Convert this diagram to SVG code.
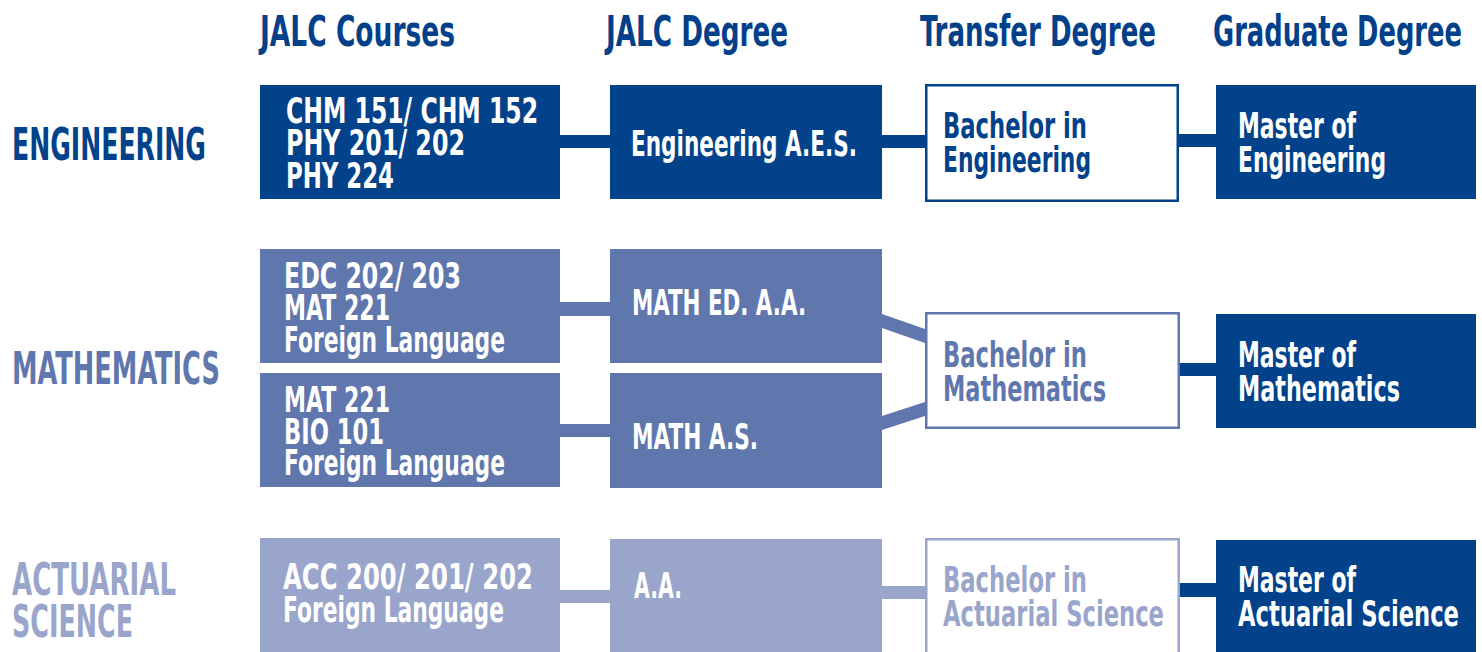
<svg xmlns="http://www.w3.org/2000/svg" width="1482" height="652" viewBox="0 0 1482 652">
<style>
text{font-family:"DejaVu Sans Condensed","DejaVu Sans","Liberation Sans",sans-serif;font-stretch:condensed;font-weight:bold}
.hd{font-size:42px;fill:#02418a}
.rl{font-size:44px}
.bt{font-size:36px;fill:#ffffff}
.dk{fill:#02428a}
.md{fill:#6077ae}
.lt{fill:#9aa5cb}
.bw{fill:#ffffff;stroke-width:2.5}
</style>
<rect width="1482" height="652" fill="#ffffff"/>
<g id="headers">
<text class="hd" x="260" y="46" textLength="195" lengthAdjust="spacingAndGlyphs">JALC Courses</text>
<text class="hd" x="606" y="46" textLength="182" lengthAdjust="spacingAndGlyphs">JALC Degree</text>
<text class="hd" x="920" y="46" textLength="236" lengthAdjust="spacingAndGlyphs">Transfer Degree</text>
<text class="hd" x="1213" y="46" textLength="249" lengthAdjust="spacingAndGlyphs">Graduate Degree</text>
</g>
<g id="row-labels">
<text class="rl dk" x="12" y="160" textLength="194" lengthAdjust="spacingAndGlyphs">ENGINEERING</text>
<text class="rl md" x="12" y="384" textLength="208" lengthAdjust="spacingAndGlyphs">MATHEMATICS</text>
<text class="rl lt" x="12" y="595" textLength="164" lengthAdjust="spacingAndGlyphs">ACTUARIAL</text>
<text class="rl lt" x="12" y="637" textLength="121" lengthAdjust="spacingAndGlyphs">SCIENCE</text>
</g>
<g id="connectors">
<rect class="dk" x="560" y="135" width="50" height="13"/>
<rect class="dk" x="882" y="135" width="43" height="13"/>
<rect class="dk" x="1179" y="134" width="37" height="13"/>
<rect class="md" x="560" y="302" width="50" height="14"/>
<rect class="md" x="560" y="424" width="50" height="13"/>
<polygon class="md" points="882,314 882,328 925,343 925,329"/>
<polygon class="md" points="882,416 882,430 925,416 925,402"/>
<rect class="dk" x="1180" y="363" width="36" height="13"/>
<rect class="lt" x="560" y="590" width="50" height="13"/>
<rect class="lt" x="882" y="586" width="43" height="13"/>
<rect class="dk" x="1180" y="583" width="36" height="14"/>
</g>
<g id="eng-courses">
<rect class="dk" x="260" y="85" width="300" height="114"/>
<text class="bt" x="286" y="123" textLength="252" lengthAdjust="spacingAndGlyphs">CHM 151/ CHM 152</text>
<text class="bt" x="286" y="155" textLength="179" lengthAdjust="spacingAndGlyphs">PHY 201/ 202</text>
<text class="bt" x="286" y="188" textLength="108" lengthAdjust="spacingAndGlyphs">PHY 224</text>
</g>
<g id="eng-aes">
<rect class="dk" x="610" y="85" width="272" height="114"/>
<text class="bt" x="631" y="156" textLength="226" lengthAdjust="spacingAndGlyphs">Engineering A.E.S.</text>
</g>
<g id="eng-bachelor">
<rect class="bw" x="926.25" y="85.25" width="251.5" height="115.5" stroke="#02428a"/>
<text class="bt dk" x="943" y="138" textLength="144" lengthAdjust="spacingAndGlyphs">Bachelor in</text>
<text class="bt dk" x="943" y="172" textLength="148" lengthAdjust="spacingAndGlyphs">Engineering</text>
</g>
<g id="eng-master">
<rect class="dk" x="1216" y="85" width="260" height="114"/>
<text class="bt" x="1238" y="138" textLength="118" lengthAdjust="spacingAndGlyphs">Master of</text>
<text class="bt" x="1238" y="172" textLength="148" lengthAdjust="spacingAndGlyphs">Engineering</text>
</g>
<g id="math-courses-1">
<rect class="md" x="260" y="249" width="300" height="114"/>
<text class="bt" x="284" y="288" textLength="177" lengthAdjust="spacingAndGlyphs">EDC 202/ 203</text>
<text class="bt" x="284" y="320" textLength="106" lengthAdjust="spacingAndGlyphs">MAT 221</text>
<text class="bt" x="284" y="352" textLength="221" lengthAdjust="spacingAndGlyphs">Foreign Language</text>
</g>
<g id="math-ed-aa">
<rect class="md" x="610" y="249" width="272" height="114"/>
<text class="bt" x="632" y="315" textLength="174" lengthAdjust="spacingAndGlyphs">MATH ED. A.A.</text>
</g>
<g id="math-courses-2">
<rect class="md" x="260" y="373" width="300" height="114"/>
<text class="bt" x="284" y="412" textLength="106" lengthAdjust="spacingAndGlyphs">MAT 221</text>
<text class="bt" x="284" y="444" textLength="100" lengthAdjust="spacingAndGlyphs">BIO 101</text>
<text class="bt" x="284" y="475" textLength="221" lengthAdjust="spacingAndGlyphs">Foreign Language</text>
</g>
<g id="math-as">
<rect class="md" x="610" y="373" width="272" height="115"/>
<text class="bt" x="632" y="449" textLength="126" lengthAdjust="spacingAndGlyphs">MATH A.S.</text>
</g>
<g id="math-bachelor">
<rect class="bw" x="926.25" y="313.25" width="252.5" height="114.5" stroke="#6077ae"/>
<text class="bt md" x="943" y="367" textLength="144" lengthAdjust="spacingAndGlyphs">Bachelor in</text>
<text class="bt md" x="943" y="401" textLength="163" lengthAdjust="spacingAndGlyphs">Mathematics</text>
</g>
<g id="math-master">
<rect class="dk" x="1216" y="314" width="260" height="114"/>
<text class="bt" x="1238" y="367" textLength="118" lengthAdjust="spacingAndGlyphs">Master of</text>
<text class="bt" x="1238" y="401" textLength="162" lengthAdjust="spacingAndGlyphs">Mathematics</text>
</g>
<g id="act-courses">
<rect class="lt" x="260" y="538" width="300" height="120"/>
<text class="bt" x="283" y="589" textLength="250" lengthAdjust="spacingAndGlyphs">ACC 200/ 201/ 202</text>
<text class="bt" x="283" y="622" textLength="221" lengthAdjust="spacingAndGlyphs">Foreign Language</text>
</g>
<g id="act-aa">
<rect class="lt" x="610" y="539" width="272" height="120"/>
<text class="bt" x="634" y="598" textLength="48" lengthAdjust="spacingAndGlyphs">A.A.</text>
</g>
<g id="act-bachelor">
<rect class="bw" x="926.25" y="539.25" width="252.5" height="120" stroke="#9aa5cb"/>
<text class="bt lt" x="943" y="592" textLength="144" lengthAdjust="spacingAndGlyphs">Bachelor in</text>
<text class="bt lt" x="943" y="626" textLength="221" lengthAdjust="spacingAndGlyphs">Actuarial Science</text>
</g>
<g id="act-master">
<rect class="dk" x="1216" y="540" width="260" height="120"/>
<text class="bt" x="1238" y="592" textLength="118" lengthAdjust="spacingAndGlyphs">Master of</text>
<text class="bt" x="1238" y="626" textLength="221" lengthAdjust="spacingAndGlyphs">Actuarial Science</text>
</g>
</svg>
